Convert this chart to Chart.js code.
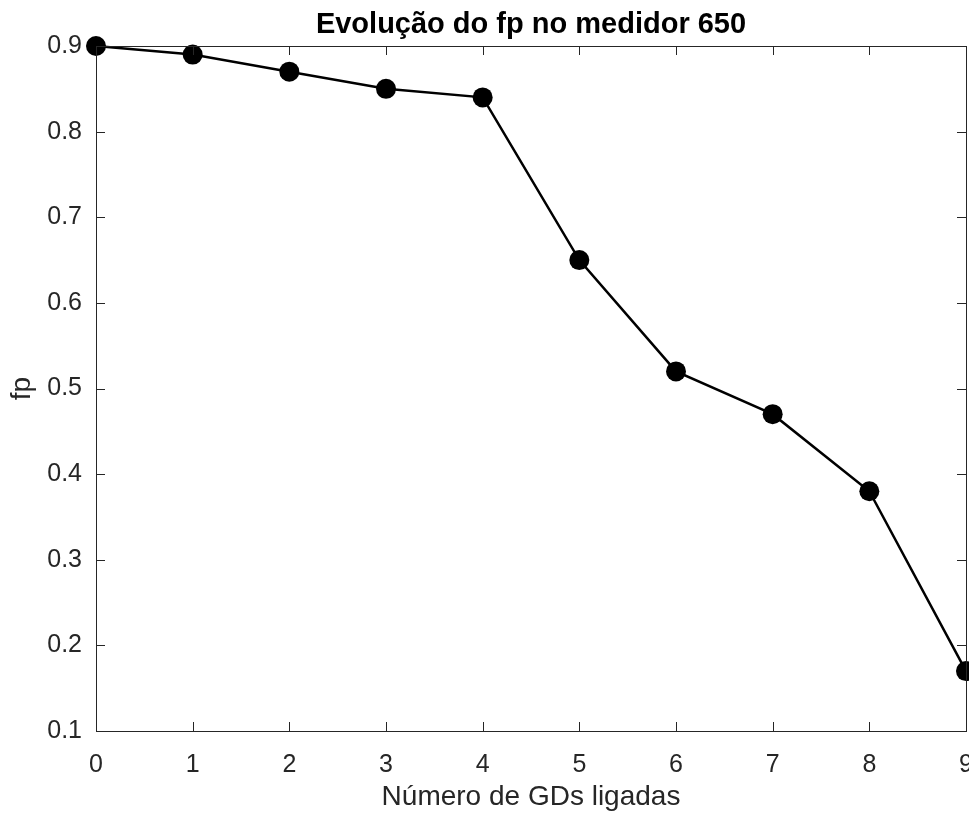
<!DOCTYPE html>
<html>
<head>
<meta charset="utf-8">
<script src="https://cdn.jsdelivr.net/npm/chart.js@4.4.1/dist/chart.umd.min.js"></script>
<style>
  html, body { margin: 0; padding: 0; background: #fff; }
  #wrap { width: 969px; height: 814px; }
</style>
</head>
<body>
<div id="wrap"><canvas id="myChart"></canvas></div>
<script>
let numeroGDs = [0, 1, 2, 3, 4, 5, 6, 7, 8, 9];
let fpValues = [0.9, 0.89, 0.87, 0.85, 0.84, 0.65, 0.52, 0.47, 0.38, 0.17];
let chartTitle = "Evolução do fp no medidor 650";
let xLabel = "Número de GDs ligadas";
let yLabel = "fp";
let axisColor = "#262626";
let fontFamily = "'Liberation Sans', Arial, sans-serif";

// MATLAB style box with inward ticks + title centered over the axes
const boxPlugin = {
  id: "boxPlugin",
  afterDraw(chart) {
    const ctx = chart.ctx;
    const area = chart.chartArea;
    const xs = chart.scales.x;
    const ys = chart.scales.y;
    ctx.save();
    ctx.strokeStyle = axisColor;
    ctx.lineWidth = 1;
    ctx.strokeRect(area.left + 0.5, area.top + 0.5, area.right - area.left, area.bottom - area.top);
    ctx.beginPath();
    xs.ticks.forEach((t) => {
      let px = Math.round(xs.getPixelForValue(t.value)) + 0.5;
      ctx.moveTo(px, area.bottom);
      ctx.lineTo(px, area.bottom - 9);
      ctx.moveTo(px, area.top);
      ctx.lineTo(px, area.top + 9);
    });
    ys.ticks.forEach((t) => {
      let py = Math.round(ys.getPixelForValue(t.value)) + 0.5;
      ctx.moveTo(area.left, py);
      ctx.lineTo(area.left + 9, py);
      ctx.moveTo(area.right, py);
      ctx.lineTo(area.right - 9, py);
    });
    ctx.stroke();
    ctx.fillStyle = "#000";
    ctx.font = "bold 29px " + fontFamily;
    ctx.textAlign = "center";
    ctx.textBaseline = "alphabetic";
    ctx.fillText(chartTitle, (area.left + area.right) / 2, 33);
    ctx.restore();
  },
};

function init() {
  const ctx = document.getElementById("myChart");
  new Chart(ctx, {
    type: "line",
    data: {
      labels: numeroGDs,
      datasets: [
        {
          data: numeroGDs.map((x, i) => ({ x: x, y: fpValues[i] })),
          borderColor: "#000",
          backgroundColor: "#000",
          borderWidth: 2.5,
          pointRadius: 10,
          pointBackgroundColor: "#000",
          pointBorderWidth: 0,
          clip: false,
          tension: 0,
        },
      ],
    },
    options: {
      responsive: true,
      maintainAspectRatio: false,
      animation: false,
      layout: {
        autoPadding: false,
        padding: { top: 46, right: 3, left: 0, bottom: 0 },
      },
      plugins: {
        legend: { display: false },
        title: { display: false },
        tooltip: { enabled: false },
      },
      scales: {
        x: {
          type: "linear",
          min: 0,
          max: 9,
          grid: { display: false, drawTicks: false },
          border: { display: false },
          ticks: {
            stepSize: 1,
            padding: 19,
            color: axisColor,
            font: { family: fontFamily, size: 25 },
            maxRotation: 0,
          },
          title: {
            display: true,
            text: xLabel,
            color: axisColor,
            font: { family: fontFamily, size: 28 },
            padding: { top: 0, bottom: 0 },
          },
          afterFit(scale) {
            scale.height = 83;
            scale.paddingLeft = 0;
            scale.paddingRight = 0;
          },
        },
        y: {
          min: 0.1,
          max: 0.9,
          grid: { display: false, drawTicks: false },
          border: { display: false },
          ticks: {
            stepSize: 0.1,
            padding: 14,
            color: axisColor,
            font: { family: fontFamily, size: 25 },
            callback: (v) => v.toFixed(1),
          },
          title: {
            display: true,
            text: yLabel,
            color: axisColor,
            font: { family: fontFamily, size: 28 },
            padding: { top: 5, bottom: 0 },
          },
          afterFit(scale) {
            scale.width = 96;
            scale.paddingTop = 0;
            scale.paddingBottom = 0;
          },
        },
      },
    },
    plugins: [boxPlugin],
  });
}

init();
</script>
</body>
</html>
